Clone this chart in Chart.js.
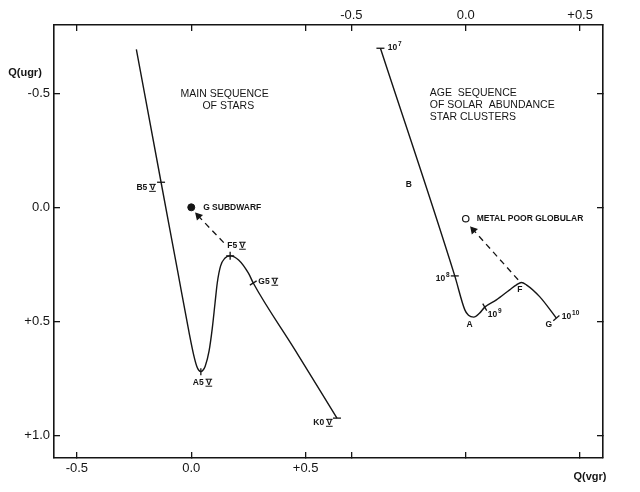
<!DOCTYPE html>
<html>
<head>
<meta charset="utf-8">
<title>Q(ugr) – Q(vgr)</title>
<script src="https://cdn.jsdelivr.net/npm/chart.js@4.4.1/dist/chart.umd.min.js"></script>
<style>
  html, body { margin: 0; padding: 0; background: #fff; }
</style>
</head>
<body>
<canvas id="qChart" width="640" height="492"></canvas>
<script>
// main sequence of stars (read on the bottom Q(vgr) scale)
const msX = [-0.240, -0.132, -0.060, -0.010, 0.010, 0.024, 0.033, 0.042, 0.051, 0.061, 0.078, 0.092, 0.104, 0.114, 0.128, 0.148, 0.170, 0.207, 0.250, 0.271, 0.450, 0.637];
const msY = [-0.693, -0.110, 0.277, 0.547, 0.645, 0.697, 0.715, 0.721, 0.715, 0.697, 0.630, 0.530, 0.420, 0.330, 0.258, 0.222, 0.213, 0.231, 0.289, 0.332, 0.620, 0.925];
const msTickIdx = [1, 7, 16, 19, 21]; // B5 V, A5 V, F5 V, G5 V, K0 V

// age sequence of solar abundance clusters (read on the top Q(vgr) scale)
const ageX = [-0.373, -0.048, -0.004, 0.012, 0.035, 0.060, 0.083, 0.134, 0.192, 0.222, 0.243, 0.265, 0.323, 0.396];
const ageY = [-0.698, 0.301, 0.450, 0.474, 0.482, 0.465, 0.438, 0.406, 0.362, 0.340, 0.330, 0.340, 0.392, 0.486];
const ageTickIdx = [0, 1, 6, 13]; // 10^7, 10^8, 10^9, 10^10

// the two metal poor objects and the dashed shifts pointing at them
const subdwarfX = [0.0];
const subdwarfY = [0.0];
const globularX = [0.0];
const globularY = [0.05];
const msShiftX = [0.142, 0.031];
const msShiftY = [0.155, 0.038];
const ageShiftX = [0.229, 0.033];
const ageShiftY = [0.318, 0.099];

// axis ticks
const xTicks = [-0.5, 0, 0.5];
const xTickLabels = ['-0.5', '0.0', '+0.5'];
const yTicks = [-0.5, 0, 0.5, 1.0];
const yTickLabels = ['-0.5', '0.0', '+0.5', '+1.0'];
const panelShift = 1.2; // zero of the age panel sits 1.2 units right of the main sequence zero

const ink = '#151515';
const family = '"Liberation Sans", Arial, sans-serif';
const bigFont = '10.5px ' + family;
const smallFont = 'bold 8.5px ' + family;

// text on the plot, placed in data units of the panel it belongs to
const notes = [
  { text: 'MAIN SEQUENCE', x: 0.146, y: -0.497, axis: 'x', align: 'center', font: bigFont },
  { text: 'OF STARS', x: 0.162, y: -0.445, axis: 'x', align: 'center', font: bigFont },
  { text: 'B5 V', x: -0.157, y: -0.085, axis: 'x', align: 'right', font: smallFont, roman: true },
  { text: 'G SUBDWARF', x: 0.052, y: 0.0, axis: 'x', align: 'left', font: smallFont },
  { text: 'F5 V', x: 0.197, y: 0.169, axis: 'x', align: 'center', font: smallFont, roman: true },
  { text: 'G5 V', x: 0.293, y: 0.327, axis: 'x', align: 'left', font: smallFont, roman: true },
  { text: 'A5 V', x: 0.048, y: 0.770, axis: 'x', align: 'center', font: smallFont, roman: true },
  { text: 'K0 V', x: 0.616, y: 0.946, axis: 'x', align: 'right', font: smallFont, roman: true },
  { text: 'AGE  SEQUENCE', x: -0.157, y: -0.502, axis: 'x2', align: 'left', font: bigFont },
  { text: 'OF SOLAR  ABUNDANCE', x: -0.157, y: -0.449, axis: 'x2', align: 'left', font: bigFont },
  { text: 'STAR CLUSTERS', x: -0.157, y: -0.396, axis: 'x2', align: 'left', font: bigFont },
  { text: '10', sup: '7', x: -0.341, y: -0.700, axis: 'x2', align: 'left', font: smallFont },
  { text: 'B', x: -0.249, y: -0.098, axis: 'x2', align: 'center', font: smallFont },
  { text: 'METAL POOR GLOBULAR', x: 0.048, y: 0.051, axis: 'x2', align: 'left', font: smallFont },
  { text: '10', sup: '8', x: -0.131, y: 0.313, axis: 'x2', align: 'left', font: smallFont },
  { text: 'A', x: 0.017, y: 0.516, axis: 'x2', align: 'center', font: smallFont },
  { text: '10', sup: '9', x: 0.096, y: 0.470, axis: 'x2', align: 'left', font: smallFont },
  { text: 'F', x: 0.236, y: 0.362, axis: 'x2', align: 'center', font: smallFont },
  { text: 'G', x: 0.363, y: 0.516, axis: 'x2', align: 'center', font: smallFont },
  { text: '10', sup: '10', x: 0.420, y: 0.478, axis: 'x2', align: 'left', font: smallFont }
];

function pts(xs, ys) {
  return xs.map((x, i) => ({ x: x, y: ys[i] }));
}

function labelFor(v, vals, labs) {
  const i = vals.findIndex(t => Math.abs(t - v) < 1e-6);
  return i >= 0 ? labs[i] : '';
}

// draws the free text, the roman numeral bars and the axis names
const notesPlugin = {
  id: 'notes',
  afterDraw(chart) {
    const ctx = chart.ctx;
    const ys = chart.scales.y;
    const area = chart.chartArea;
    ctx.save();
    ctx.fillStyle = ink;
    ctx.strokeStyle = ink;
    ctx.textBaseline = 'middle';
    notes.forEach(n => {
      const px = chart.scales[n.axis].getPixelForValue(n.x);
      const py = ys.getPixelForValue(n.y);
      ctx.font = n.font;
      ctx.textAlign = n.align;
      ctx.fillText(n.text, px, py);
      const w = ctx.measureText(n.text).width;
      let left = px;
      if (n.align === 'center') left = px - w / 2;
      if (n.align === 'right') left = px - w;
      if (n.roman) {
        const vw = ctx.measureText('V').width;
        const x0 = left + w - vw - 0.5;
        ctx.lineWidth = 1;
        ctx.beginPath();
        ctx.moveTo(x0, py - 3.6); ctx.lineTo(x0 + vw + 1, py - 3.6);
        ctx.moveTo(x0, py + 3.4); ctx.lineTo(x0 + vw + 1, py + 3.4);
        ctx.stroke();
      }
      if (n.sup) {
        ctx.font = 'bold 6.5px ' + family;
        ctx.textAlign = 'left';
        ctx.fillText(n.sup, left + w + 0.8, py - 3.5);
      }
    });
    ctx.font = 'bold 11px ' + family;
    ctx.textAlign = 'center';
    ctx.fillText('Q(ugr)', area.left - 29, area.top + 48);
    ctx.fillText('Q(vgr)', area.right - 13, area.bottom + 19);
    ctx.restore();
  }
};

const tickFont = { family: family, size: 13 };
const gridOpts = { drawOnChartArea: false, drawTicks: true, tickLength: -6, color: ink, lineWidth: 1.3 };
const borderOpts = { display: true, color: ink, width: 1.6 };

new Chart(document.getElementById('qChart'), {
  type: 'scatter',
  data: {
    datasets: [{
      label: 'main sequence',
      data: pts(msX, msY),
      xAxisID: 'x', yAxisID: 'y',
      showLine: true,
      borderColor: ink, borderWidth: 1.4,
      pointRadius: 0,
      cubicInterpolationMode: 'monotone'
    }, {
      label: 'age sequence',
      data: pts(ageX, ageY),
      xAxisID: 'x2', yAxisID: 'y',
      showLine: true,
      borderColor: ink, borderWidth: 1.4,
      pointRadius: 0,
      cubicInterpolationMode: 'monotone'
    }, {
      label: 'spectral types',
      data: msTickIdx.map(i => ({ x: msX[i], y: msY[i] })),
      xAxisID: 'x', yAxisID: 'y',
      pointStyle: ['line', 'line', 'cross', 'line', 'line'],
      rotation: [0, 90, 0, -32, 0],
      pointRadius: [4, 3.5, 4, 4, 4],
      borderColor: ink, borderWidth: 1.3
    }, {
      label: 'ages',
      data: ageTickIdx.map(i => ({ x: ageX[i], y: ageY[i] })),
      xAxisID: 'x2', yAxisID: 'y',
      pointStyle: 'line',
      rotation: [0, 0, 60, -40],
      pointRadius: 4,
      borderColor: ink, borderWidth: 1.3
    }, {
      label: 'shift to subdwarf',
      data: pts(msShiftX, msShiftY),
      xAxisID: 'x', yAxisID: 'y',
      showLine: true,
      borderColor: ink, borderWidth: 1.3, borderDash: [6, 4.5],
      pointStyle: 'triangle',
      rotation: [0, -43],
      pointRadius: [0, 3.5],
      pointBackgroundColor: ink, pointBorderColor: ink
    }, {
      label: 'shift to globular',
      data: pts(ageShiftX, ageShiftY),
      xAxisID: 'x2', yAxisID: 'y',
      showLine: true,
      borderColor: ink, borderWidth: 1.3, borderDash: [6, 4.5],
      pointStyle: 'triangle',
      rotation: [0, -42],
      pointRadius: [0, 3.5],
      pointBackgroundColor: ink, pointBorderColor: ink
    }, {
      label: 'G subdwarf',
      data: pts(subdwarfX, subdwarfY),
      xAxisID: 'x', yAxisID: 'y',
      pointRadius: 3.5,
      backgroundColor: ink, borderColor: ink
    }, {
      label: 'metal poor globular',
      data: pts(globularX, globularY),
      xAxisID: 'x2', yAxisID: 'y',
      pointRadius: 3.2,
      backgroundColor: '#fff', borderColor: ink, borderWidth: 1.2
    }]
  },
  options: {
    responsive: false,
    animation: false,
    events: [],
    layout: { padding: 0 },
    plugins: { legend: { display: false }, tooltip: { enabled: false } },
    scales: {
      x: {
        type: 'linear', position: 'bottom', min: -0.6, max: 1.8,
        afterBuildTicks: s => { s.ticks = xTicks.concat(xTicks.map(v => v + panelShift)).map(v => ({ value: v })); },
        afterFit: s => { s.height = 34; },
        ticks: { callback: v => labelFor(v, xTicks, xTickLabels), font: tickFont, color: ink, padding: 9, maxRotation: 0, autoSkip: false },
        grid: gridOpts, border: borderOpts
      },
      x2: {
        type: 'linear', position: 'top', min: -0.6 - panelShift, max: 1.8 - panelShift,
        afterBuildTicks: s => { s.ticks = xTicks.concat(xTicks.map(v => v - panelShift)).map(v => ({ value: v })); },
        afterFit: s => { s.height = 25; },
        ticks: { callback: v => labelFor(v, xTicks, xTickLabels), font: tickFont, color: ink, padding: 8, maxRotation: 0, autoSkip: false },
        grid: gridOpts, border: borderOpts
      },
      y: {
        type: 'linear', position: 'left', min: -0.8, max: 1.1, reverse: true,
        afterBuildTicks: s => { s.ticks = yTicks.map(v => ({ value: v })); },
        afterFit: s => { s.width = 54; },
        ticks: { callback: v => labelFor(v, yTicks, yTickLabels), font: tickFont, color: ink, padding: 10, autoSkip: false },
        grid: gridOpts, border: borderOpts
      },
      y2: {
        type: 'linear', position: 'right', min: -0.8, max: 1.1, reverse: true,
        afterBuildTicks: s => { s.ticks = yTicks.map(v => ({ value: v })); },
        afterFit: s => { s.width = 37; },
        ticks: { callback: () => '', autoSkip: false },
        grid: gridOpts, border: borderOpts
      }
    }
  },
  plugins: [notesPlugin]
});
</script>
</body>
</html>
